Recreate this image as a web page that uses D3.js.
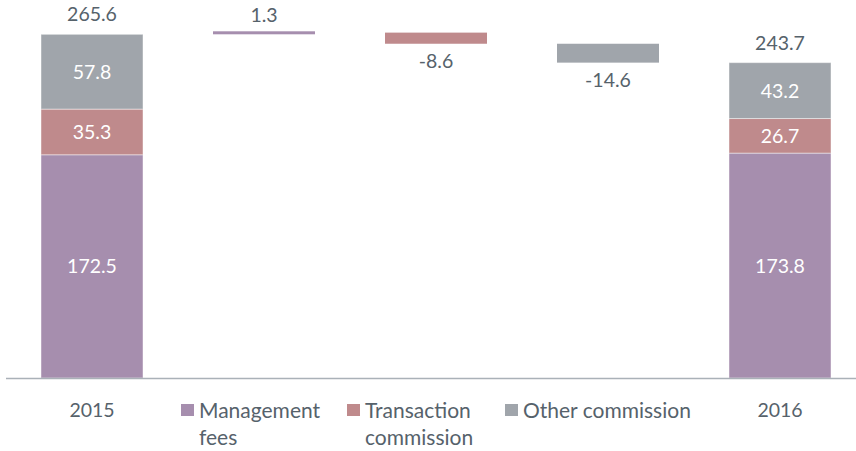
<!DOCTYPE html>
<html>
<head>
<meta charset="utf-8">
<title>Commission waterfall</title>
<script src="https://cdn.jsdelivr.net/npm/d3@7/dist/d3.min.js"></script>
<style>
  *{margin:0;padding:0;}
  body{background:#fff;}
  text{font-family:Lato,"Noto Sans",sans-serif;}
</style>
</head>
<body>
<div id="chart"></div>
<script>
// data
var steps = ["2015", "mgmt", "trans", "other", "2016"];
var seriesNames = ["Management fees", "Transaction commission", "Other commission"];
var colors = ["#a68eae", "#bf8a8c", "#a0a5ab"];
var start2015 = [172.5, 35.3, 57.8];
var end2016 = [173.8, 26.7, 43.2];
var deltas = [1.3, -8.6, -14.6];
var totals = [265.6, 243.7];

var W = 856, H = 451;
var svg = d3.select("#chart").append("svg").attr("width", W).attr("height", H);

var x = d3.scaleBand().domain(steps).range([6, 866]).paddingInner(0.407).paddingOuter(0.2035);
var y = d3.scaleLinear().domain([0, 265.6]).range([378, 34.3]);

var textCol = "#56626b";
var fs = 19.5;

// stacked columns
function stack(key, vals, total){
  var g = svg.append("g");
  var acc = 0;
  vals.forEach(function(v, i){
    var y0 = acc, y1 = acc + v;
    acc = y1;
    g.append("rect")
      .attr("x", x(key)).attr("width", x.bandwidth())
      .attr("y", y(y1)).attr("height", y(y0) - y(y1))
      .attr("fill", colors[i])
      .attr("stroke", "#fff").attr("stroke-opacity", 0.45).attr("stroke-width", 1);
    g.append("text")
      .attr("x", x(key) + x.bandwidth()/2).attr("y", (y(y0) + y(y1))/2)
      .attr("dy", "0.36em").attr("text-anchor", "middle")
      .attr("font-size", fs).attr("fill", "#fff")
      .text(v.toFixed(1));
  });
  g.append("text")
    .attr("x", x(key) + x.bandwidth()/2).attr("y", y(total) - 20)
    .attr("dy", "0.36em").attr("text-anchor", "middle")
    .attr("font-size", fs).attr("fill", textCol)
    .text(total.toFixed(1));
}
stack("2015", start2015, totals[0]);
stack("2016", end2016, totals[1]);

// floating deltas
var level = totals[0];
deltas.forEach(function(d, i){
  var key = steps[i+1];
  var a = level, b = level + d;
  level = b;
  var top = Math.max(a, b), bot = Math.min(a, b);
  var h = Math.max(3, y(bot) - y(top));
  svg.append("rect")
    .attr("x", x(key)).attr("width", x.bandwidth())
    .attr("y", y(bot) - h).attr("height", h)
    .attr("fill", colors[i]);
  var ly = d >= 0 ? y(top) - 18 : y(bot) + 17;
  svg.append("text")
    .attr("x", x(key) + x.bandwidth()/2).attr("y", ly)
    .attr("dy", "0.36em").attr("text-anchor", "middle")
    .attr("font-size", fs).attr("fill", textCol)
    .text(d.toFixed(1));
});

// baseline
svg.append("line")
  .attr("x1", 6).attr("x2", 856).attr("y1", y(0) + 0.5).attr("y2", y(0) + 0.5)
  .attr("stroke", "#aab1b8").attr("stroke-width", 1.5);

// year labels
["2015", "2016"].forEach(function(k){
  svg.append("text")
    .attr("x", x(k) + x.bandwidth()/2).attr("y", 410)
    .attr("dy", "0.36em").attr("text-anchor", "middle")
    .attr("font-size", fs).attr("fill", textCol)
    .text(k);
});

// legend
var legendX = [181, 347, 505];
var legendLines = [["Management", "fees"], ["Transaction", "commission"], ["Other commission"]];
seriesNames.forEach(function(name, i){
  var g = svg.append("g").attr("transform", "translate(" + legendX[i] + ",0)");
  g.append("rect").attr("x", 0).attr("y", 404).attr("width", 13).attr("height", 12).attr("fill", colors[i]);
  legendLines[i].forEach(function(line, j){
    g.append("text")
      .attr("x", 18).attr("y", 418 + j*27)
      .attr("font-size", 21).attr("fill", textCol)
      .text(line);
  });
});
</script>
</body>
</html>
